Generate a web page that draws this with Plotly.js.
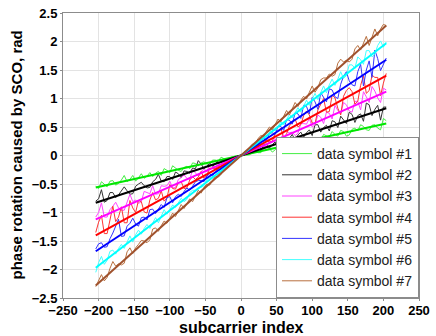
<!DOCTYPE html>
<html><head><meta charset="utf-8">
<script src="https://cdn.plot.ly/plotly-3.0.1.min.js"></script>
<style>html,body{margin:0;padding:0;background:#fff}#chart{width:436px;height:336px}</style>
</head><body><div id="chart"></div>
<script>
const subcarriers = [-204,-200,-196,-192,-188,-184,-180,-176,-172,-168,-164,-160,-156,-152,-148,-144,-140,-136,-132,-128,-124,-120,-116,-112,-108,-104,-100,-96,-92,-88,-84,-80,-76,-72,-68,-64,-60,-56,-52,-48,-44,-40,-36,-32,-28,-24,-20,-16,-12,-8,-4,0,4,8,12,16,20,24,28,32,36,40,44,48,52,56,60,64,68,72,76,80,84,88,92,96,100,104,108,112,116,120,124,128,132,136,140,144,148,152,156,160,164,168,172,176,180,184,188,192,196,200,204];
const symbolNames = ["data symbol #1","data symbol #2","data symbol #3","data symbol #4","data symbol #5","data symbol #6","data symbol #7"];
const sym1 = [-0.54,-0.58,-0.46,-0.51,-0.55,-0.45,-0.44,-0.52,-0.49,-0.43,-0.35,-0.46,-0.42,-0.35,-0.45,-0.39,-0.32,-0.40,-0.36,-0.30,-0.37,-0.31,-0.28,-0.35,-0.23,-0.26,-0.30,-0.18,-0.22,-0.26,-0.28,-0.21,-0.19,-0.23,-0.13,-0.14,-0.18,-0.13,-0.11,-0.15,-0.16,-0.08,-0.08,-0.10,-0.03,-0.05,-0.08,-0.04,-0.02,-0.01,-0.01,0.00,0.02,0.01,0.01,0.06,0.09,0.05,0.05,0.13,0.14,0.12,0.06,0.10,0.16,0.20,0.22,0.16,0.16,0.22,0.22,0.28,0.15,0.20,0.28,0.27,0.30,0.32,0.26,0.26,0.37,0.35,0.32,0.42,0.37,0.34,0.44,0.42,0.34,0.36,0.46,0.48,0.43,0.54,0.51,0.45,0.44,0.53,0.54,0.48,0.45,0.65,0.61];
const sym2 = [-0.80,-0.76,-0.60,-0.82,-0.79,-0.65,-0.65,-0.74,-0.69,-0.62,-0.55,-0.62,-0.68,-0.67,-0.54,-0.50,-0.47,-0.53,-0.57,-0.56,-0.46,-0.42,-0.33,-0.45,-0.46,-0.37,-0.37,-0.42,-0.29,-0.32,-0.39,-0.27,-0.28,-0.31,-0.22,-0.23,-0.09,-0.15,-0.23,-0.19,-0.14,-0.19,-0.15,-0.09,-0.08,-0.10,-0.10,-0.05,-0.04,-0.04,-0.02,0.00,0.02,0.04,0.04,0.05,0.10,0.13,0.08,0.19,0.20,0.13,0.19,0.24,0.17,0.25,0.30,0.21,0.30,0.37,0.26,0.36,0.41,0.32,0.40,0.45,0.35,0.54,0.54,0.41,0.49,0.53,0.43,0.61,0.59,0.49,0.69,0.62,0.56,0.76,0.72,0.58,0.70,0.73,0.60,0.92,0.89,0.70,0.81,0.88,0.62,0.85,0.85];
const sym3 = [-1.08,-1.00,-0.83,-1.08,-1.08,-0.95,-0.89,-0.82,-0.92,-0.96,-0.96,-0.80,-0.68,-0.81,-0.78,-0.84,-0.81,-0.63,-0.65,-0.67,-0.53,-0.68,-0.67,-0.53,-0.54,-0.53,-0.45,-0.57,-0.56,-0.42,-0.39,-0.34,-0.40,-0.42,-0.25,-0.30,-0.36,-0.28,-0.24,-0.29,-0.16,-0.18,-0.22,-0.16,-0.11,-0.14,-0.10,-0.07,-0.08,-0.04,-0.02,0.00,0.03,0.03,0.05,0.11,0.14,0.17,0.20,0.16,0.16,0.27,0.30,0.29,0.27,0.27,0.42,0.42,0.40,0.41,0.35,0.39,0.56,0.56,0.55,0.65,0.50,0.54,0.71,0.67,0.56,0.76,0.74,0.64,0.88,0.79,0.73,0.93,0.89,0.78,0.76,0.95,0.95,0.80,1.12,1.03,0.93,1.21,1.13,1.01,0.93,1.18,1.15];
const sym4 = [-1.35,-1.17,-1.05,-1.37,-1.37,-1.11,-0.89,-1.16,-1.08,-0.90,-1.18,-1.18,-0.79,-0.92,-1.00,-0.79,-0.81,-0.99,-1.01,-0.78,-0.65,-0.78,-0.75,-0.62,-0.80,-0.75,-0.51,-0.58,-0.59,-0.48,-0.46,-0.58,-0.57,-0.43,-0.37,-0.42,-0.38,-0.28,-0.40,-0.35,-0.22,-0.23,-0.23,-0.19,-0.22,-0.19,-0.10,-0.09,-0.07,-0.05,-0.03,0.00,0.02,0.08,0.11,0.09,0.12,0.21,0.25,0.25,0.27,0.24,0.25,0.39,0.44,0.48,0.31,0.38,0.52,0.57,0.64,0.50,0.54,0.70,0.78,0.71,0.57,0.56,0.80,0.89,1.00,0.76,0.77,1.06,1.01,0.83,0.71,1.04,1.14,1.19,1.12,0.90,0.95,1.23,1.40,1.09,1.14,1.41,1.37,1.37,1.05,1.27,1.44];
const sym5 = [-1.64,-1.55,-1.53,-1.61,-1.60,-1.46,-1.36,-1.25,-1.12,-1.42,-1.41,-1.24,-1.19,-1.10,-1.20,-1.24,-1.09,-1.08,-1.13,-0.95,-0.94,-1.02,-0.93,-0.86,-0.91,-0.74,-0.72,-0.83,-0.72,-0.68,-0.72,-0.63,-0.57,-0.61,-0.54,-0.46,-0.44,-0.44,-0.46,-0.36,-0.32,-0.36,-0.28,-0.23,-0.25,-0.18,-0.14,-0.14,-0.09,-0.06,-0.03,0.00,0.04,0.08,0.08,0.16,0.20,0.18,0.28,0.30,0.27,0.39,0.40,0.37,0.51,0.51,0.44,0.63,0.62,0.55,0.75,0.73,0.65,0.88,0.86,0.73,1.02,0.94,0.81,1.10,1.02,0.94,1.17,1.15,1.03,1.00,1.25,1.39,1.47,1.31,1.24,1.22,1.47,1.60,1.22,1.50,1.66,1.37,1.85,1.70,1.49,1.60,1.71];
const sym6 = [-2.05,-1.88,-1.77,-1.91,-1.84,-1.68,-1.66,-1.73,-1.63,-1.56,-1.63,-1.53,-1.41,-1.52,-1.39,-1.31,-1.38,-1.28,-1.21,-1.28,-1.18,-1.09,-1.18,-1.07,-0.95,-1.03,-0.94,-0.87,-0.91,-0.83,-0.75,-0.81,-0.77,-0.65,-0.61,-0.61,-0.56,-0.56,-0.53,-0.42,-0.39,-0.37,-0.34,-0.33,-0.29,-0.20,-0.17,-0.15,-0.12,-0.08,-0.04,0.00,0.05,0.09,0.10,0.18,0.22,0.21,0.29,0.35,0.32,0.40,0.48,0.43,0.52,0.59,0.54,0.64,0.72,0.66,0.76,0.84,0.76,0.88,0.97,0.88,0.99,1.09,0.98,1.10,1.22,1.10,1.24,1.34,1.23,1.34,1.47,1.35,1.40,1.59,1.59,1.53,1.73,1.68,1.60,1.84,1.84,1.73,1.78,1.93,2.01,1.90,1.99];
const sym7 = [-2.30,-2.18,-2.09,-2.20,-2.14,-1.98,-1.86,-1.94,-1.90,-1.92,-1.89,-1.69,-1.62,-1.72,-1.62,-1.56,-1.49,-1.50,-1.53,-1.48,-1.29,-1.27,-1.33,-1.23,-1.15,-1.19,-1.10,-1.01,-1.07,-0.97,-0.86,-0.93,-0.84,-0.76,-0.81,-0.70,-0.61,-0.66,-0.56,-0.50,-0.52,-0.44,-0.36,-0.38,-0.33,-0.24,-0.20,-0.18,-0.13,-0.08,-0.05,0.00,0.05,0.08,0.15,0.20,0.20,0.30,0.35,0.33,0.43,0.50,0.45,0.56,0.64,0.59,0.69,0.79,0.71,0.83,0.93,0.86,0.97,1.04,0.99,1.11,1.22,1.11,1.19,1.33,1.36,1.36,1.43,1.39,1.42,1.62,1.69,1.64,1.67,1.64,1.69,1.87,1.93,1.85,1.96,2.09,1.93,2.08,2.22,2.10,2.22,2.30,2.28];
const fitEndX = [-204, 204];
const fitStart = [-0.56,-0.83,-1.12,-1.40,-1.68,-1.97,-2.28];
const fitEnd = [0.56,0.83,1.12,1.40,1.68,1.97,2.28];
const xTicks = [-250,-200,-150,-100,-50,0,50,100,150,200,250];
const yTicks = [-2.5,-2,-1.5,-1,-0.5,0,0.5,1,1.5,2,2.5];

const allSeries = [sym1,sym2,sym3,sym4,sym5,sym6,sym7];
const noisyColors = ["#44ee44","#333333","#ff44ff","#ff3333","#3333ff","#44ffff","#b8703f"];
const fitColors = ["#00e600","#000000","#ff00ff","#ff0000","#0000ff","#00ffff","#a0522d"];
const FONT = "Arial, 'Liberation Sans', sans-serif";

const traces = [];
allSeries.forEach((s,i)=>{
  traces.push({x:subcarriers,y:s,type:'scatter',mode:'lines',name:symbolNames[i],
    line:{color:noisyColors[i],width:1}});
});
allSeries.forEach((s,i)=>{
  traces.push({x:fitEndX,y:[fitStart[i],fitEnd[i]],type:'scatter',mode:'lines',showlegend:false,
    hoverinfo:'skip',line:{color:fitColors[i],width:2}});
});

const axisCommon = {showgrid:true,gridcolor:'#e3e3e3',zeroline:false,showline:true,mirror:true,
  linecolor:'#8c8c8c',linewidth:1,ticks:'outside',ticklen:2,tickcolor:'#8c8c8c',
  tickfont:{size:13,weight:'bold',family:FONT,color:'#000'}};

const layout = {
  width:436,height:336,
  margin:{l:63,r:17,t:13,b:38},
  paper_bgcolor:'#fff',plot_bgcolor:'#fff',
  font:{family:FONT,color:'#000'},
  xaxis:Object.assign({range:[-250,250],tickvals:xTicks},axisCommon,{ticklabelstandoff:-2}),
  yaxis:Object.assign({range:[-2.5,2.5],tickvals:yTicks},axisCommon),
  annotations:[
    {text:'phase rotation caused by SCO, rad',xref:'paper',yref:'paper',x:0,y:0.5,
      xshift:-47,xanchor:'center',yanchor:'middle',textangle:-90,showarrow:false,
      font:{size:15,weight:'bold',family:FONT,color:'#000'}},
    {text:'subcarrier index',xref:'paper',yref:'paper',x:0.5,y:0,
      yshift:-29,xanchor:'center',yanchor:'middle',showarrow:false,
      font:{size:16,weight:'bold',family:FONT,color:'#000'}}
  ],
  legend:{x:1,y:0,xanchor:'right',yanchor:'bottom',bgcolor:'#fff',bordercolor:'#8c8c8c',borderwidth:1,
    font:{size:14,family:FONT,color:'#222'},itemwidth:30,tracegroupgap:0},
  showlegend:true
};
Plotly.newPlot('chart',traces,layout,{staticPlot:true,displayModeBar:false});
</script></body></html>
